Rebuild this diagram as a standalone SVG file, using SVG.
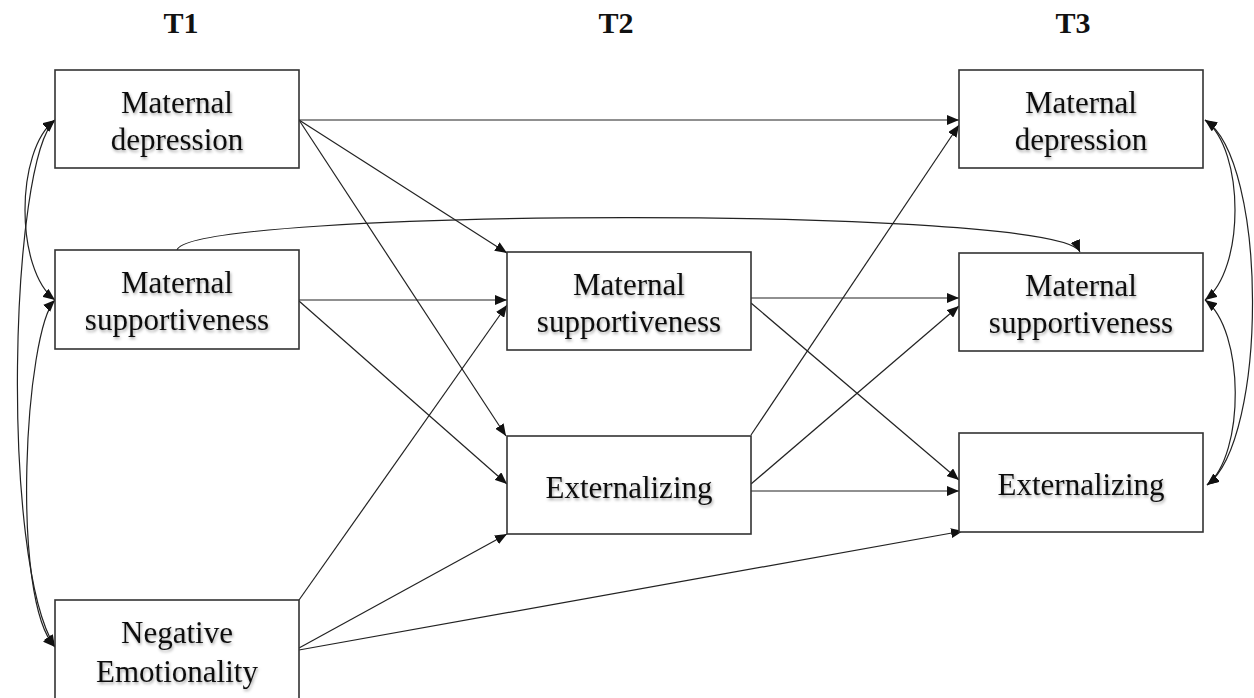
<svg xmlns="http://www.w3.org/2000/svg" width="1254" height="698" viewBox="0 0 1254 698">
<style>
.box{fill:#fff;stroke:#333;stroke-width:1.6}
.lbl{font-family:"Liberation Serif","Times New Roman",serif;font-size:31px;fill:#111;text-anchor:middle;filter:url(#ts)}
.hdr{font-family:"Liberation Serif","Times New Roman",serif;font-size:30px;font-weight:bold;fill:#111;text-anchor:middle}
.c{fill:none;stroke:#222;stroke-width:1.2;marker-end:url(#ah)}
.b{marker-start:url(#ah)}
</style>
<defs>
<marker id="ah" markerUnits="userSpaceOnUse" markerWidth="13" markerHeight="10" refX="12" refY="5" orient="auto-start-reverse" viewBox="0 0 13 10">
<path d="M0,0 L12,5 L0,10 z" fill="#111"/>
</marker>
<filter id="ts" x="-10%" y="-30%" width="120%" height="160%">
<feDropShadow dx="1" dy="2" stdDeviation="1.6" flood-color="#000" flood-opacity="0.35"/>
</filter>
</defs>
<rect width="1254" height="698" fill="#fff"/>
<g id="headers">
<text class="hdr" x="181" y="33">T1</text>
<text class="hdr" x="616" y="33">T2</text>
<text class="hdr" x="1073" y="33">T3</text>
</g>
<g id="connectors">
<path class="c" d="M299,120 L959,120"/>
<path class="c" d="M299,120 L507,253"/>
<path class="c" d="M299,120 L506,436"/>
<path class="c" d="M299,300 L507,300"/>
<path class="c" d="M299,301 L507,484"/>
<path class="c" d="M299,600 L507,305"/>
<path class="c" d="M299,648 L507,534"/>
<path class="c" d="M299,650 L963,531"/>
<path class="c" d="M751,298 L959,298"/>
<path class="c" d="M751,303 L959,480"/>
<path class="c" d="M751,435 L959,125"/>
<path class="c" d="M751,484 L959,306"/>
<path class="c" d="M751,491 L959,491"/>
<path class="c" d="M177,250 C190,208 1060,205 1080,252"/>
<path class="c b" d="M55,120 C15,150 15,270 55,300"/>
<path class="c b" d="M55,120 C10,160 0,560 55,647"/>
<path class="c b" d="M55,300 C25,330 10,600 55,647"/>
<path class="c b" d="M1205,120 C1245,150 1245,270 1205,300"/>
<path class="c b" d="M1205,120 C1268,160 1268,440 1207,485"/>
<path class="c b" d="M1205,300 C1245,330 1245,455 1207,485"/>
</g>
<g id="t1-depression">
<rect class="box" x="55" y="70" width="244" height="98"/>
<text class="lbl" x="177" y="113">Maternal</text>
<text class="lbl" x="177" y="150">depression</text>
</g>
<g id="t1-supportiveness">
<rect class="box" x="55" y="250" width="244" height="99"/>
<text class="lbl" x="177" y="293">Maternal</text>
<text class="lbl" x="177" y="330">supportiveness</text>
</g>
<g id="t1-negemo">
<rect class="box" x="55" y="600" width="244" height="110"/>
<text class="lbl" x="177" y="643">Negative</text>
<text class="lbl" x="177" y="682">Emotionality</text>
</g>
<g id="t2-supportiveness">
<rect class="box" x="507" y="252" width="244" height="98"/>
<text class="lbl" x="629" y="295">Maternal</text>
<text class="lbl" x="629" y="332">supportiveness</text>
</g>
<g id="t2-externalizing">
<rect class="box" x="507" y="436" width="244" height="98"/>
<text class="lbl" x="629" y="498">Externalizing</text>
</g>
<g id="t3-depression">
<rect class="box" x="959" y="70" width="244" height="98"/>
<text class="lbl" x="1081" y="113">Maternal</text>
<text class="lbl" x="1081" y="150">depression</text>
</g>
<g id="t3-supportiveness">
<rect class="box" x="959" y="253" width="244" height="98"/>
<text class="lbl" x="1081" y="296">Maternal</text>
<text class="lbl" x="1081" y="333">supportiveness</text>
</g>
<g id="t3-externalizing">
<rect class="box" x="959" y="433" width="244" height="99"/>
<text class="lbl" x="1081" y="495">Externalizing</text>
</g>
</svg>
